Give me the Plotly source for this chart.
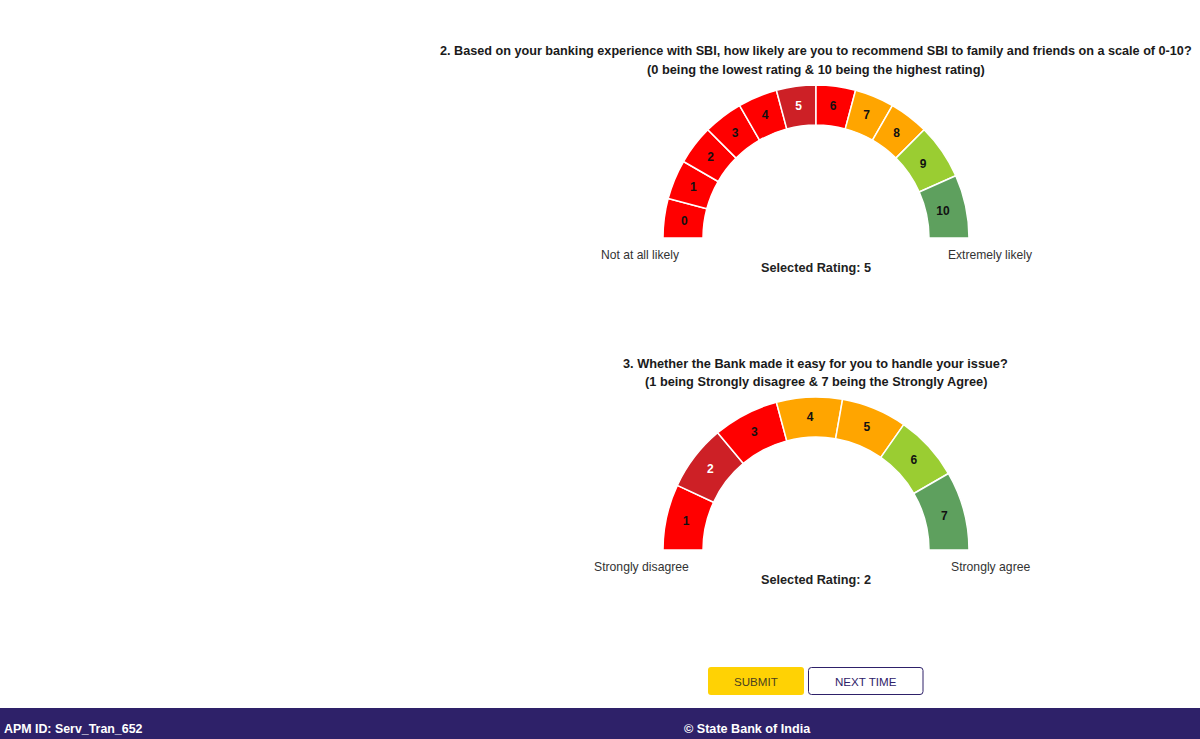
"""Survey page with two half-donut rating gauges."""
import plotly.graph_objects as go

W = 1200
H = 739

# question 2 gauge
nps_labels = ["0", "1", "2", "3", "4", "5", "6", "7", "8", "9", "10"]
nps_degrees = [15, 15, 15, 15, 15, 15, 15, 15, 15, 21, 24]
nps_colors = ["#ff0000", "#ff0000", "#ff0000", "#ff0000", "#ff0000", "#cd2026",
              "#ff0000", "#ffa500", "#ffa500", "#9acd32", "#5ea05e"]
nps_text_colors = ["#111111"] * 5 + ["#ffffff"] + ["#111111"] * 5

# question 3 gauge
agree_labels = ["1", "2", "3", "4", "5", "6", "7"]
agree_degrees = [25, 25, 25, 25, 25, 25, 30]
agree_colors = ["#ff0000", "#cd2026", "#ff0000", "#ffa500", "#ffa500", "#9acd32", "#5ea05e"]
agree_text_colors = ["#111111", "#ffffff", "#111111", "#111111", "#111111", "#111111", "#111111"]

q2_lines = ["2. Based on your banking experience with SBI, how likely are you to recommend SBI to family and friends on a scale of 0-10?",
            "(0 being the lowest rating & 10 being the highest rating)"]
q3_lines = ["3. Whether the Bank made it easy for you to handle your issue?",
            "(1 being Strongly disagree & 7 being the Strongly Agree)"]

NAVY = "#2e2169"
FONT = "Liberation Sans, Arial, sans-serif"


def px(x):
    return x / W


def py(y):
    return 1 - y / H


def gauge(labels, degrees, colors, text_colors, cy, text_outer=153):
    # the lower half of the pie is an invisible slice
    ring = go.Pie(
        values=degrees + [180],
        textinfo="none",
        marker=dict(colors=colors + ["rgba(255,255,255,0)"],
                    line=dict(color="#ffffff", width=[1.5] * len(labels) + [0])),
        hole=113 / 153,
        sort=False,
        direction="clockwise",
        rotation=270,
        hoverinfo="skip",
        showlegend=False,
        domain=dict(x=[px(816 - 153), px(816 + 153)], y=[py(cy + 153), py(cy - 153)]),
    )
    # separate see-through pie for the numbers so their radius can differ from the ring
    numbers = go.Pie(
        values=degrees + [180],
        text=labels + [""],
        textinfo="text",
        textposition="inside",
        insidetextorientation="horizontal",
        textfont=dict(family=FONT, size=12, color=text_colors + ["#ffffff"], weight="bold"),
        marker=dict(colors=["rgba(255,255,255,0)"] * (len(labels) + 1), line=dict(width=0)),
        hole=(text_outer - 40) / text_outer,
        sort=False,
        direction="clockwise",
        rotation=270,
        hoverinfo="skip",
        showlegend=False,
        domain=dict(x=[px(816 - text_outer), px(816 + text_outer)],
                    y=[py(cy + text_outer), py(cy - text_outer)]),
    )
    return [ring, numbers]


def label(x, y, text, size=12, bold=False, color="#333333", anchor="center"):
    fig.add_annotation(
        x=px(x), y=py(y), xref="paper", yref="paper", text=text, showarrow=False,
        xanchor=anchor, yanchor="middle",
        font=dict(family=FONT, size=size, color=color, weight="bold" if bold else "normal"),
    )


def rounded_box(x0, y0, x1, y1, r):
    # corners drawn with quadratic curves in paper coordinates
    return (f"M {px(x0 + r)} {py(y0)} L {px(x1 - r)} {py(y0)} Q {px(x1)} {py(y0)} {px(x1)} {py(y0 + r)} "
            f"L {px(x1)} {py(y1 - r)} Q {px(x1)} {py(y1)} {px(x1 - r)} {py(y1)} "
            f"L {px(x0 + r)} {py(y1)} Q {px(x0)} {py(y1)} {px(x0)} {py(y1 - r)} "
            f"L {px(x0)} {py(y0 + r)} Q {px(x0)} {py(y0)} {px(x0 + r)} {py(y0)} Z")


fig = go.Figure()
fig.add_traces(gauge(nps_labels, nps_degrees, nps_colors, nps_text_colors, 238, text_outer=150))
fig.add_traces(gauge(agree_labels, agree_degrees, agree_colors, agree_text_colors, 550))

# question headings
label(815.5, 51, q2_lines[0], size=12.65, bold=True, color="#1a1a1a")
label(816, 69, q2_lines[1], size=12.8, bold=True, color="#1a1a1a")
label(815, 363, q3_lines[0], size=12.75, bold=True, color="#1a1a1a")
label(816, 381, q3_lines[1], size=12.75, bold=True, color="#1a1a1a")

# gauge captions
label(640.5, 255, "Not at all likely", size=12.1)
label(990, 255, "Extremely likely", size=12.1)
label(816, 268, "Selected Rating: 5", size=12.7, bold=True, color="#222222")
label(641, 567, "Strongly disagree", size=12.2)
label(990, 567, "Strongly agree", size=12.2)
label(816, 580, "Selected Rating: 2", size=12.7, bold=True, color="#222222")

# buttons
fig.add_shape(type="path", xref="paper", yref="paper", path=rounded_box(708, 667, 804, 695, 3),
              fillcolor="#ffd204", line=dict(width=0))
fig.add_shape(type="path", xref="paper", yref="paper", path=rounded_box(808.5, 667.5, 923, 694.5, 3),
              fillcolor="#ffffff", line=dict(color=NAVY, width=1))
label(756, 681, "SUBMIT", size=11.6, color="#4a3f20")
label(866, 681, "NEXT TIME", size=11.6, color=NAVY)

# footer bar
fig.add_shape(type="rect", xref="paper", yref="paper", x0=0, x1=1, y0=0, y1=py(708),
              fillcolor=NAVY, line=dict(width=0), layer="below")
label(2, 729, "APM ID: Serv_Tran_652", size=12.4, bold=True, color="#ffffff", anchor="left")
label(682, 729, "© State Bank of India", size=12.6, bold=True, color="#ffffff", anchor="left")

fig.update_layout(
    width=W, height=H,
    margin=dict(l=0, r=0, t=0, b=0),
    paper_bgcolor="#ffffff",
    plot_bgcolor="#ffffff",
)

fig.write_html(
    "out.html",
    config=dict(displayModeBar=False),
    post_script="document.body.style.margin='0';document.body.style.overflow='hidden';",
)
